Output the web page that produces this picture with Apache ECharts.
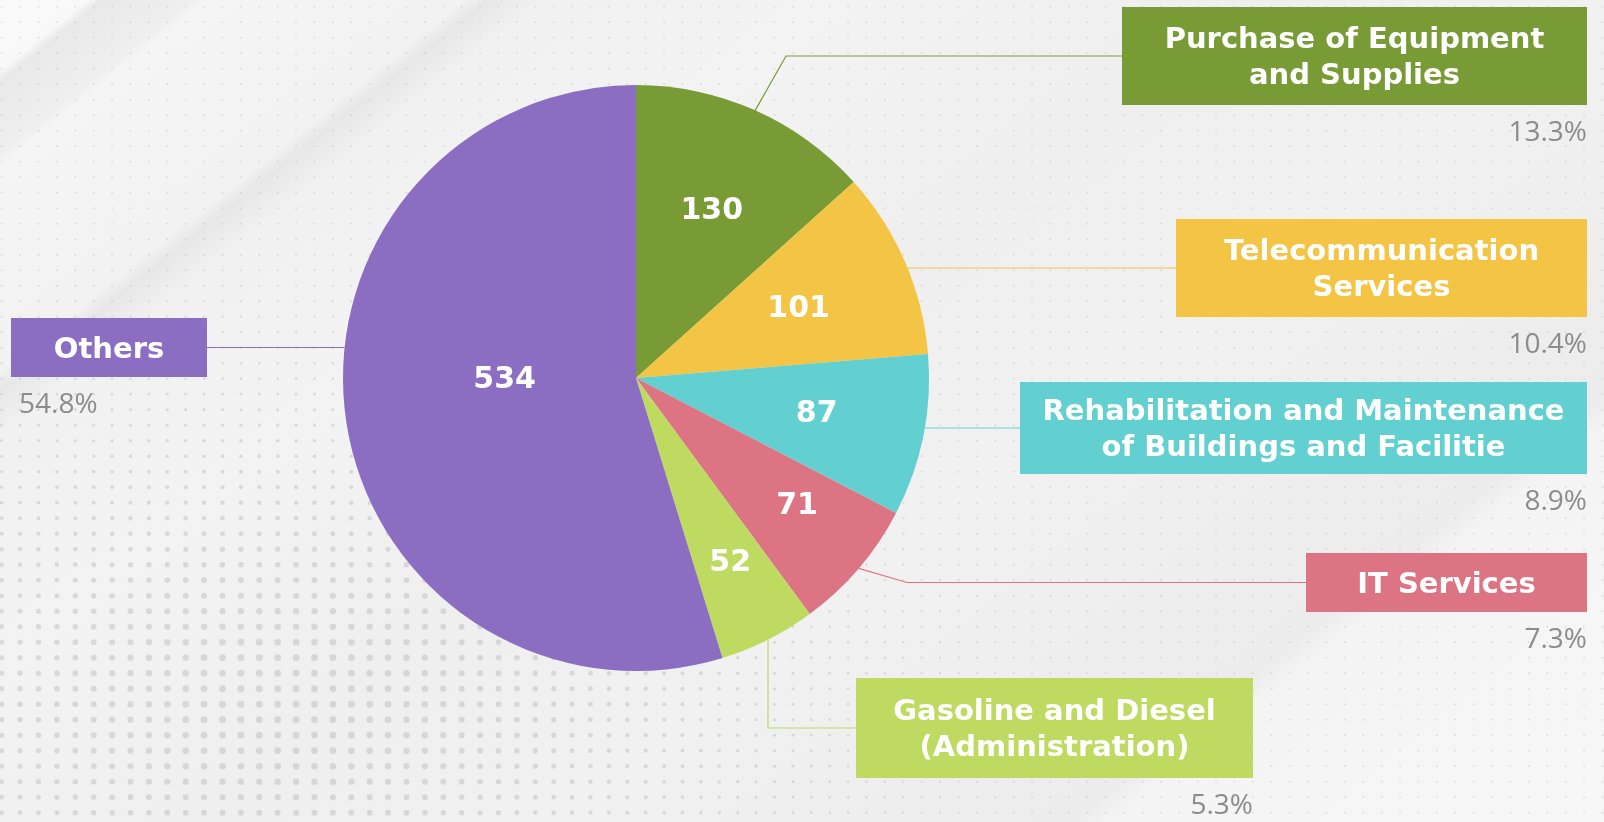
<!DOCTYPE html>
<html lang="en">
<head>
<meta charset="UTF-8">
<title>Spending by category</title>
<style>
  html, body { margin: 0; padding: 0; background: #efefef; }
  #main { width: 1604px; height: 822px; }
</style>
</head>
<body>
<div id="main"></div>
<script src="https://cdn.jsdelivr.net/npm/echarts@6/dist/echarts.min.js"></script>
<script>
var categories = [
    'Purchase of Equipment\nand Supplies',
    'Telecommunication\nServices',
    'Rehabilitation and Maintenance\nof Buildings and Facilitie',
    'IT Services',
    'Gasoline and Diesel\n(Administration)',
    'Others'
];
var values = [130, 101, 87, 71, 52, 534];
var colors = ['#789b35', '#f4c544', '#62cfd0', '#dd7484', '#bfda60', '#8b6ec2'];

// label boxes: left, top, width, height
var boxes = [
    [1122, 7, 465, 98],
    [1176, 219, 411, 98],
    [1020, 382, 567, 92],
    [1306, 553, 281, 59],
    [856, 678, 397, 100],
    [11, 318, 196, 59]
];
// how each leader line leaves the pie
var routes = [['mid', 786], ['flat'], ['flat'], ['mid', 907], ['drop', 768], ['flat']];
// small shifts of the numbers inside the slices
var valueNudge = [[-3, 10], [-15, 8], [-9, -2], [14, 2], [7, 12], [60, -27]];

var CX = 636, CY = 378, R = 293;
var FONT = '"DejaVu Sans", sans-serif';
var PFONT = '"Open Sans", sans-serif';
var total = values.reduce(function (a, b) { return a + b; }, 0);

// background: soft diagonal bands + dot grid
function paintBackground() {
    var c = document.createElement('canvas');
    c.width = 1604; c.height = 822;
    var ctx = c.getContext('2d');
    var L = 1644;
    var g = ctx.createLinearGradient(0, 0, 1027, 1284);
    [[0, '#fafafa'], [55, '#f8f8f8'], [64, '#e9e9e9'], [120, '#efefef'], [130, '#f5f5f5'],
     [290, '#f2f2f2'], [305, '#e7e7e7'], [340, '#f1f1f1'], [520, '#f3f3f3'], [760, '#efefef'],
     [1000, '#f1f1f1'], [1310, '#ececec'], [1335, '#f4f4f4'], [1644, '#f7f7f7']].forEach(function (s) {
        g.addColorStop(s[0] / L, s[1]);
    });
    ctx.fillStyle = g;
    ctx.fillRect(0, 0, 1604, 822);
    ctx.fillStyle = 'rgba(170,170,170,0.35)';
    for (var y = 6.7; y < 822; y += 15.5) {
        for (var x = 1.7; x < 1604; x += 18.4) {
            var f = Math.exp(-((x - 280) * (x - 280) / (2 * 300 * 300) + (y - 700) * (y - 700) / (2 * 170 * 170)));
            var r = 0.9 + 2.6 * f;
            ctx.beginPath();
            ctx.arc(x, y, r, 0, Math.PI * 2);
            ctx.fill();
        }
    }
    document.getElementById('main').style.background = 'url(' + c.toDataURL() + ')';
}
paintBackground();

function edgeAtMid(i) {
    var before = 0;
    for (var k = 0; k < i; k++) before += values[k];
    var a = (90 - (before + values[i] / 2) / total * 360) * Math.PI / 180;
    return [CX + R * Math.cos(a), CY - R * Math.sin(a)];
}
function edgeAtY(y, side) {
    return [CX + side * Math.sqrt(R * R - (y - CY) * (y - CY)), y];
}
function edgeAtX(x) {
    return [x, CY + Math.sqrt(R * R - (x - CX) * (x - CX))];
}
function linePoints(i) {
    var b = boxes[i], route = routes[i];
    var midY = b[1] + b[3] / 2;
    var right = b[0] > CX;
    var end = [right ? b[0] : b[0] + b[2], midY];
    if (route[0] === 'mid') return [edgeAtMid(i), [route[1], midY], end];
    if (route[0] === 'drop') return [edgeAtX(route[1]), [route[1], midY], end];
    var s = edgeAtY(midY, right ? 1 : -1);
    return [s, [(s[0] + end[0]) / 2, midY], end];
}

var rich = {};
boxes.forEach(function (b, i) {
    var w = b[2], h = b[3];
    var two = categories[i].indexOf('\n') >= 0;
    var base = {
        color: '#ffffff', fontFamily: FONT, fontSize: 29, fontWeight: 700,
        backgroundColor: colors[i], width: w, height: 36, align: 'center'
    };
    // text sits a touch below the geometric middle of each line
    rich['t' + i] = Object.assign({}, base, two
        ? { padding: [h / 2 - 34, 0, 0, 0], lineHeight: h / 2 + 2 }
        : { padding: [(h - 36) / 2 + 3, 0, (h - 36) / 2 - 3, 0], lineHeight: h });
    rich['u' + i] = Object.assign({}, base, { padding: [0, 0, h / 2 - 38, 0], lineHeight: h / 2 - 2 });
    var left = b[0] < CX;
    rich['p' + i] = {
        color: '#8c8c8c', fontFamily: PFONT, fontSize: 28, fontWeight: 400,
        width: left ? w - 8 : w, height: 56, lineHeight: 56,
        align: left ? 'left' : 'right', padding: left ? [0, 0, 0, 8] : [0, 0, 0, 0]
    };
});

var sliceData = categories.map(function (name, i) {
    return { name: name, value: values[i], itemStyle: { color: colors[i] }, label: { width: boxes[i][2] } };
});
var valueData = categories.map(function (name, i) {
    return { name: name, value: values[i] };
});

var chart = echarts.init(document.getElementById('main'));
chart.setOption({
    animation: false,
    series: [{
        type: 'pie',
        center: [CX, CY],
        radius: [0, R],
        startAngle: 90,
        avoidLabelOverlap: false,
        silent: true,
        itemStyle: { borderWidth: 0 },
        label: {
            show: true,
            position: 'outside',
            rich: rich,
            formatter: function (p) {
                var i = p.dataIndex;
                var lines = p.name.split('\n');
                var s = '{t' + i + '|' + lines[0] + '}';
                if (lines.length > 1) s += '\n{u' + i + '|' + lines[1] + '}';
                return s + '\n{p' + i + '|' + p.percent.toFixed(1) + '%}';
            }
        },
        labelLine: { show: true, lineStyle: { width: 1.2 } },
        labelLayout: function (p) {
            var b = boxes[p.dataIndex];
            return {
                x: b[0], y: b[1], align: 'left', verticalAlign: 'top',
                labelLinePoints: linePoints(p.dataIndex)
            };
        },
        data: sliceData
    }, {
        type: 'pie',
        center: [CX, CY],
        radius: [88, R],
        startAngle: 90,
        silent: true,
        z: 3,
        itemStyle: { color: 'transparent', borderWidth: 0 },
        label: {
            show: true,
            position: 'inside',
            formatter: '{c}',
            color: '#ffffff',
            fontFamily: FONT,
            fontSize: 30,
            fontWeight: 700
        },
        labelLine: { show: false },
        labelLayout: function (p) {
            var n = valueNudge[p.dataIndex];
            return { dx: n[0], dy: n[1] };
        },
        data: valueData
    }]
});
</script>
</body>
</html>
